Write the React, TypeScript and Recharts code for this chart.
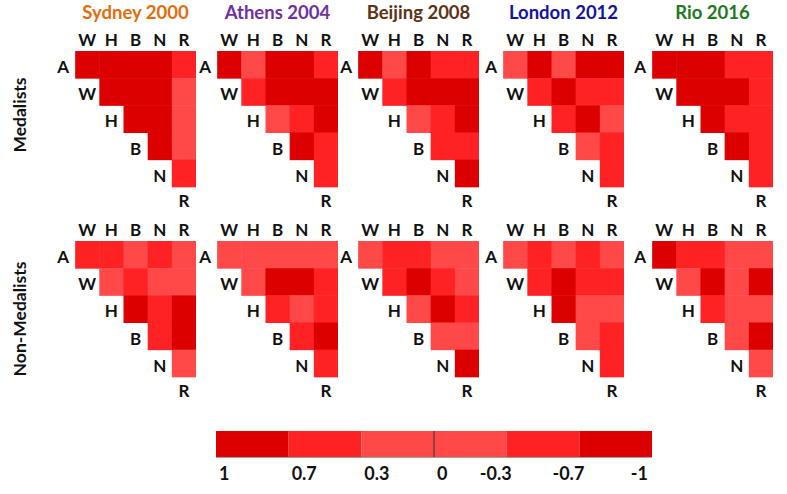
import { ScatterChart, Scatter, XAxis, YAxis, BarChart, Bar, ReferenceLine, ReferenceArea } from "recharts";

const games = ["Sydney 2000", "Athens 2004", "Beijing 2008", "London 2012", "Rio 2016"];
const gameColors = ["#e46c0a", "#7030a0", "#5e3214", "#1414a0", "#1d7a1d"];
const rowVars = ["A", "W", "H", "B", "N"];
const colVars = ["W", "H", "B", "N", "R"];
const groups = ["Medalists", "Non-Medalists"];

// upper triangle of each correlation matrix, row A..N
const sydneyMedalists = [[0.85, 0.85, 0.85, 0.85, 0.55], [0.85, 0.85, 0.85, 0.2], [0.85, 0.85, 0.2], [0.85, 0.2], [0.55]];
const athensMedalists = [[0.85, 0.2, 0.85, 0.85, 0.55], [0.55, 0.85, 0.85, 0.85], [0.2, 0.55, 0.85], [0.85, 0.55], [0.55]];
const beijingMedalists = [[0.85, 0.2, 0.85, 0.55, 0.55], [0.55, 0.85, 0.85, 0.85], [0.2, 0.55, 0.85], [0.55, 0.55], [0.85]];
const londonMedalists = [[0.2, 0.85, 0.2, 0.85, 0.85], [0.55, 0.85, 0.55, 0.55], [0.55, 0.85, 0.2], [0.2, 0.55], [0.55]];
const rioMedalists = [[0.85, 0.85, 0.85, 0.55, 0.55], [0.85, 0.85, 0.85, 0.55], [0.85, 0.55, 0.55], [0.85, 0.55], [0.55]];

const sydneyNonMedalists = [[0.55, 0.55, 0.2, 0.55, 0.2], [0.2, 0.55, 0.2, 0.2], [0.85, 0.55, 0.85], [0.55, 0.85], [0.2]];
const athensNonMedalists = [[0.2, 0.2, 0.2, 0.2, 0.2], [0.2, 0.85, 0.85, 0.55], [0.55, 0.2, 0.55], [0.55, 0.85], [0.55]];
const beijingNonMedalists = [[0.2, 0.55, 0.55, 0.2, 0.2], [0.55, 0.85, 0.55, 0.2], [0.2, 0.85, 0.55], [0.2, 0.2], [0.85]];
const londonNonMedalists = [[0.2, 0.55, 0.2, 0.55, 0.2], [0.55, 0.85, 0.55, 0.55], [0.85, 0.2, 0.2], [0.2, 0.55], [0.55]];
const rioNonMedalists = [[0.85, 0.55, 0.55, 0.2, 0.2], [0.2, 0.85, 0.2, 0.85], [0.55, 0.2, 0.2], [0.2, 0.85], [0.2]];

const medalists = [sydneyMedalists, athensMedalists, beijingMedalists, londonMedalists, rioMedalists];
const nonMedalists = [sydneyNonMedalists, athensNonMedalists, beijingNonMedalists, londonNonMedalists, rioNonMedalists];

const colorbarLabels = ["1", "0.7", "0.3", "0", "-0.3", "-0.7", "-1"];
const colorbarBins = [1, 1, 1, 1, 1, 1];

const DARK = "#dc0000";
const MID = "#fe2224";
const LIGHT = "#ff4848";
const colorbarFills = [DARK, MID, LIGHT, LIGHT, MID, DARK];

const FONT = "Lato, 'Open Sans', sans-serif";
const CELL_W = 24.17;
const CELL_H = 27.17;
const matrixLefts = [75, 217, 358, 503, 652];
const matrixTops = [51, 241];

function colorFor(v: number) {
    const a = Math.abs(v);
    if (a >= 0.7) return DARK;
    if (a >= 0.3) return MID;
    return LIGHT;
}

function toCells(matrix: number[][]) {
    const cells: any[] = [];
    matrix.forEach((row, i) => {
        row.forEach((v, j) => {
            cells.push({ x: i + j, y: i, v });
        });
    });
    return cells;
}

const rowLabels = [...rowVars.map((name, i) => ({ x: i - 1, y: i, label: name })), { x: 4, y: 5, label: "R" }];

const renderCell = (props: any) => {
    const { cx, cy, payload } = props;
    return (
        <rect
            x={cx - CELL_W / 2}
            y={cy - CELL_H / 2}
            width={CELL_W + 0.5}
            height={CELL_H + 0.5}
            fill={colorFor(payload.v)}
        />
    );
};

const renderLabel = (props: any) => {
    const { cx, cy, payload } = props;
    return (
        <text
            x={cx}
            y={cy + (payload.y === 5 ? 0 : 2)}
            textAnchor="middle"
            dominantBaseline="central"
            fontFamily={FONT}
            fontWeight={700}
            fontSize={17}
            fill="#111">
            {payload.label}
        </text>
    );
};

function Panel(props: any) {
    return (
        <div style={{ position: "absolute", left: props.left - CELL_W, top: props.top - 30 }}>
            <ScatterChart
                width={145}
                height={193}
                margin={{ top: 0, right: 0, bottom: 0, left: 0 }}>
                <XAxis
                    type="number"
                    dataKey="x"
                    orientation="top"
                    domain={[-1.5, 4.5]}
                    ticks={[0, 1, 2, 3, 4]}
                    tickFormatter={(i: number) => colVars[i]}
                    axisLine={false}
                    tickLine={false}
                    tickSize={0}
                    tickMargin={5}
                    height={30}
                    allowDataOverflow
                    tick={{ fill: "#111", fontSize: 17, fontWeight: 700, fontFamily: FONT }}
                />
                <YAxis
                    type="number"
                    dataKey="y"
                    domain={[-0.5, 5.5]}
                    reversed
                    hide
                    allowDataOverflow
                />
                <Scatter
                    data={toCells(props.matrix)}
                    shape={renderCell}
                    isAnimationActive={false}
                />
                <Scatter
                    data={rowLabels}
                    shape={renderLabel}
                    isAnimationActive={false}
                />
            </ScatterChart>
        </div>
    );
}

const ColorbarTick = (props: any) => {
    const { x, y, index } = props;
    const dx = index < 4 ? 3 : index < 6 ? 5 : -4;
    return (
        <text
            x={x + dx}
            y={y}
            dy="0.71em"
            textAnchor={index < 4 ? "start" : "end"}
            fontFamily={FONT}
            fontWeight={700}
            fontSize={18}
            fill="#111">
            {colorbarLabels[index]}
        </text>
    );
};

function Colorbar() {
    const row: any = { name: "scale" };
    colorbarBins.forEach((b, i) => {
        row["s" + i] = b;
    });
    return (
        <div style={{ position: "absolute", left: 216, top: 431 }}>
            <BarChart
                width={436}
                height={60}
                data={[row]}
                layout="vertical"
                barCategoryGap={0}
                margin={{ top: 0, right: 0, bottom: 0, left: 0 }}>
                <XAxis
                    type="number"
                    domain={[0, 6]}
                    ticks={[0, 1, 2, 3, 4, 5, 6]}
                    axisLine={false}
                    tickLine={false}
                    tickSize={0}
                    tickMargin={10}
                    height={34}
                    interval={0}
                    tick={<ColorbarTick />}
                />
                <YAxis type="category" dataKey="name" hide />
                {colorbarBins.map((b, i) => (
                    <Bar
                        key={i}
                        dataKey={"s" + i}
                        stackId="scale"
                        fill={colorbarFills[i]}
                        isAnimationActive={false}
                    />
                ))}
                <ReferenceLine x={3} stroke="#333" strokeWidth={1} />
                <ReferenceArea x1={0} x2={6} fill="none" fillOpacity={0} stroke="#444" strokeWidth={1} />
            </BarChart>
        </div>
    );
}

export default function App() {
    return (
        <div
            style={{
                position: "absolute",
                left: 0,
                top: 0,
                width: 787,
                height: 494,
                background: "#fff",
                fontFamily: FONT,
                overflow: "hidden",
            }}>
            {games.map((game, i) => (
                <div
                    key={game}
                    style={{
                        position: "absolute",
                        left: matrixLefts[i] - 20,
                        width: 121 + 40,
                        top: 0,
                        textAlign: "center",
                        fontSize: 18.5,
                        fontWeight: 700,
                        lineHeight: "24px",
                        color: gameColors[i],
                    }}>
                    {game}
                </div>
            ))}
            {groups.map((g, k) => (
                <div
                    key={g}
                    style={{
                        position: "absolute",
                        left: 20 - 80,
                        top: (k === 0 ? 115 : 319) - 12,
                        width: 160,
                        height: 24,
                        lineHeight: "24px",
                        textAlign: "center",
                        fontSize: 17.5,
                        fontWeight: 700,
                        color: "#111",
                        transform: "rotate(-90deg)",
                    }}>
                    {g}
                </div>
            ))}
            {medalists.map((m, i) => (
                <Panel key={"m" + i} matrix={m} left={matrixLefts[i]} top={matrixTops[0]} />
            ))}
            {nonMedalists.map((m, i) => (
                <Panel key={"n" + i} matrix={m} left={matrixLefts[i]} top={matrixTops[1]} />
            ))}
            <Colorbar />
        </div>
    );
}
